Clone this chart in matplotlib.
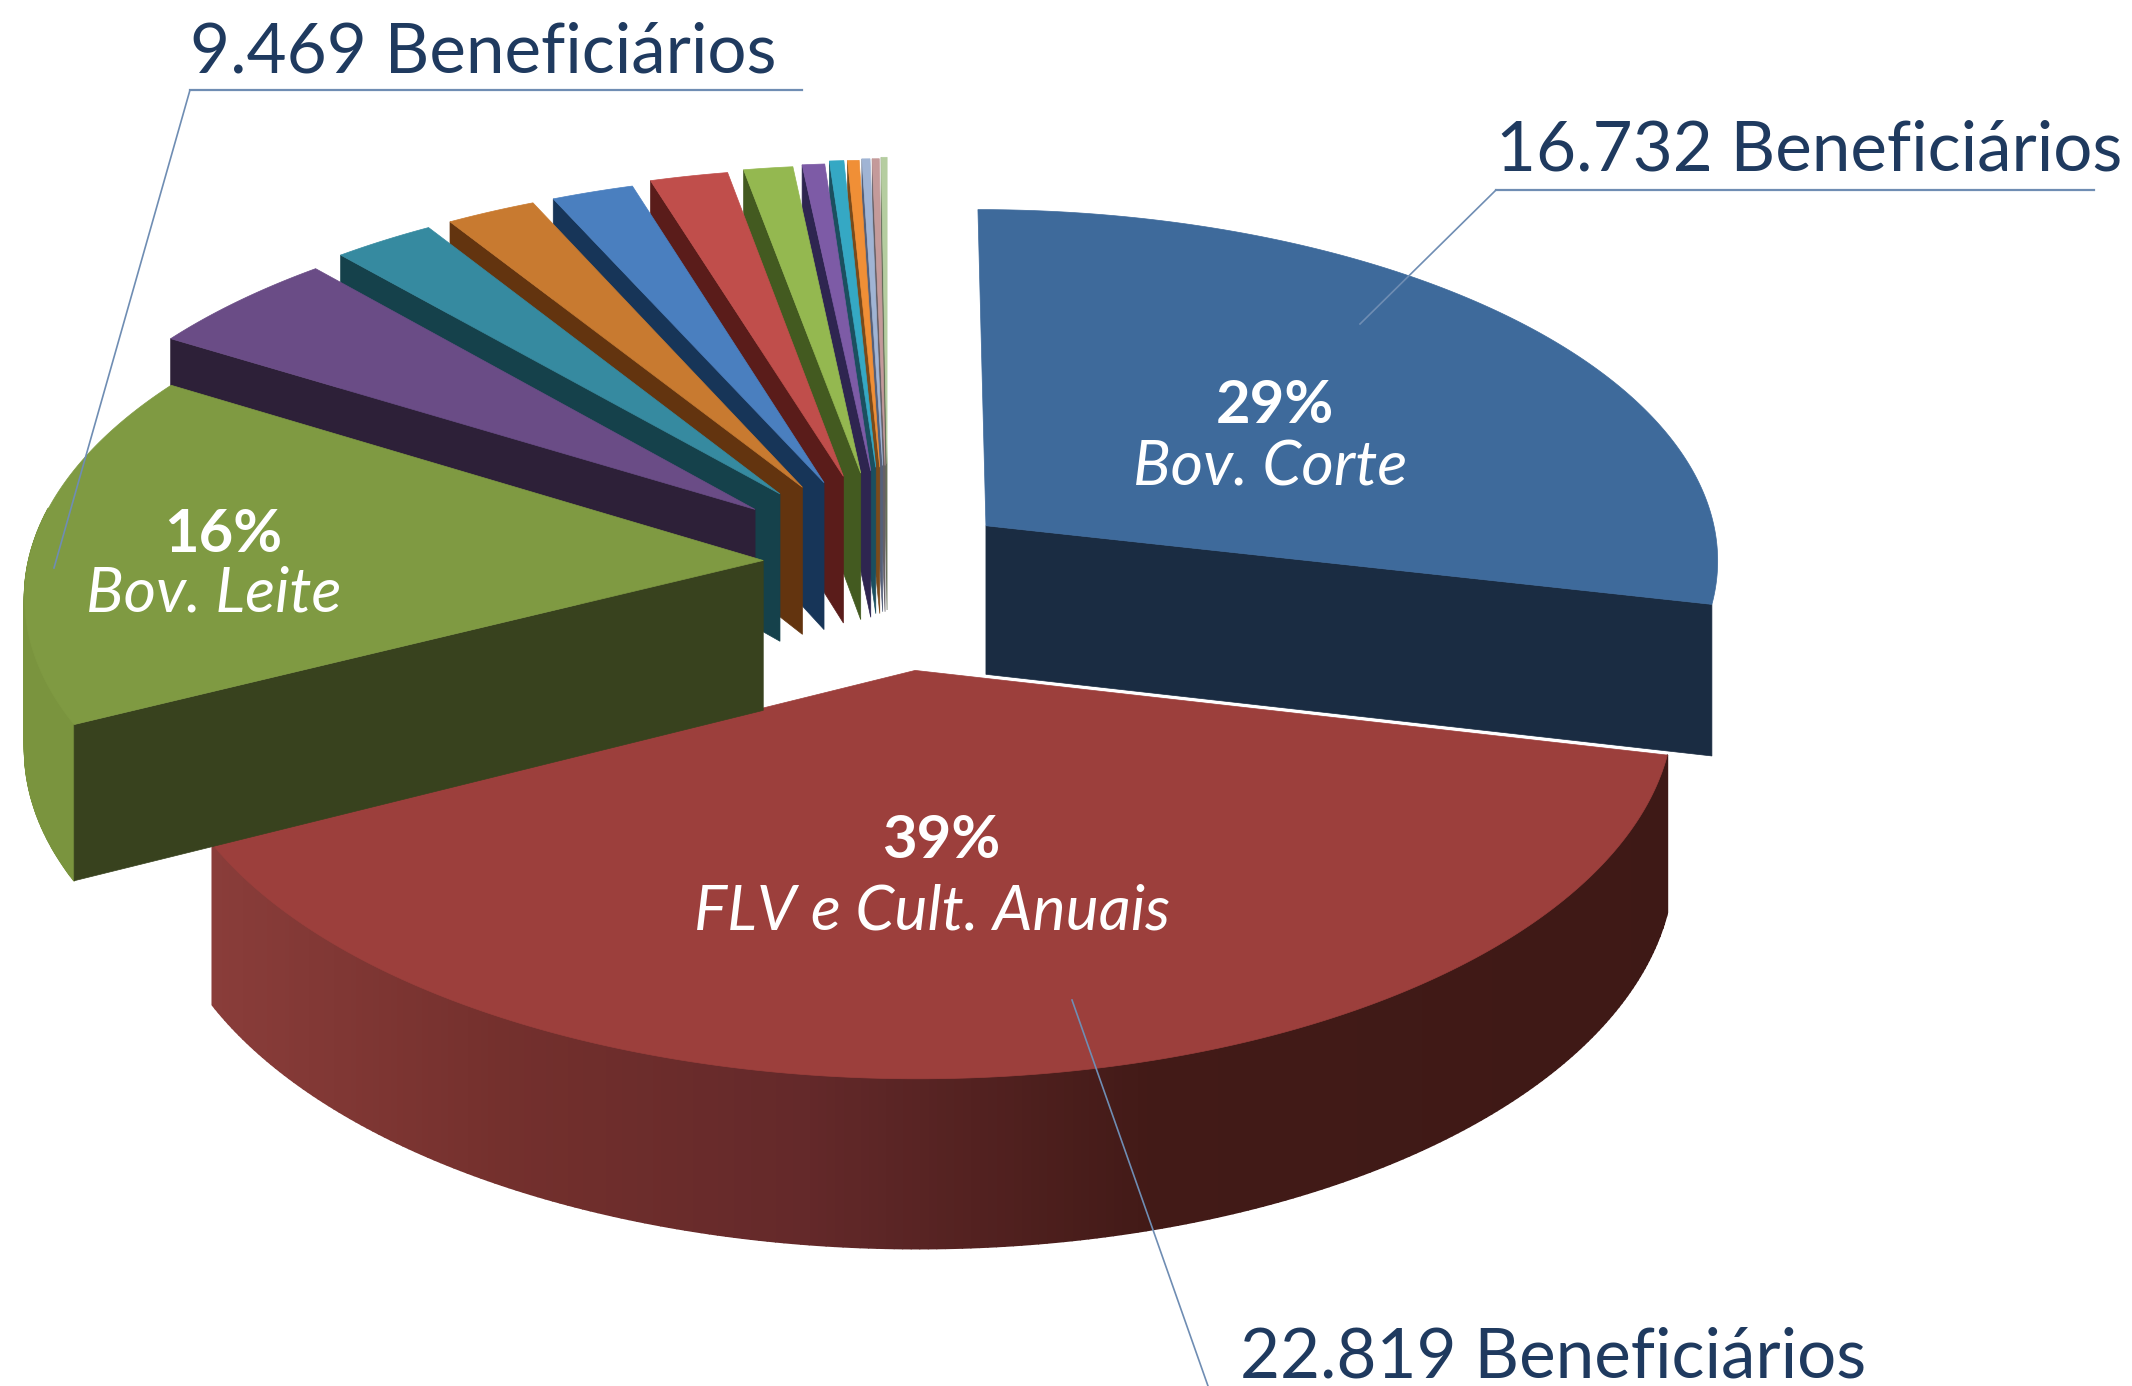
import numpy as np
import matplotlib
matplotlib.use("Agg")
import matplotlib.pyplot as plt
from matplotlib.collections import PolyCollection
from matplotlib.colors import to_rgb

# ---- data (beneficiaries per activity, clockwise from 12 o'clock) ----
names = ["Bov. Corte", "FLV e Cult. Anuais", "Bov. Leite", "Outra 1", "Outra 2", "Outra 3",
         "Outra 4", "Outra 5", "Outra 6", "Outra 7", "Outra 8", "Outra 9", "Outra 10", "Outra 11", "Outra 12"]
values = [16732, 22819, 9469, 2800, 1450, 1280, 1170, 1110, 700, 320, 205, 165, 115, 100, 85]
explode = [0.172, 0.30, 0.17, 0.24, 0.25, 0.25, 0.25, 0.26, 0.265, 0.27, 0.28, 0.28, 0.285, 0.285, 0.29]
top_colors = ["#3E6A9B", "#9C3F3C", "#7F9A42", "#6A4C86", "#368AA0", "#C87A30", "#4A7FBF", "#C04E4B",
              "#94B850", "#7D5BA6", "#35A8C4", "#F08F36", "#A0B4D4", "#C49A9A", "#B5CDA0"]
side_colors = ["#1A2C42", "#3E1916", "#38421E", "#2D2038", "#15414B", "#63340F", "#173558", "#5A1C1A",
               "#435A20", "#2E2550", "#1B4F5F", "#7A4A1A", "#54607A", "#666066", "#66705A"]
wall_colors = ["", None, "#7A943E"] + side_colors[3:]

callout_texts = ["16.732 Beneficiários", "22.819 Beneficiários", "9.469 Beneficiários"]
pct_labels = ["29%", "39%", "16%"]
cat_labels = ["Bov. Corte", "FLV e Cult. Anuais", "Bov. Leite"]

# ---- projection of the tilted disc ----
CX, CY, A, B, P, Q, DEPTH = 888.0, 563.0, 735.0, 351.0, 0.09, 0.09, 150.0

def project(X, Y, down=False):
    X, Y = np.asarray(X, float), np.asarray(Y, float)
    sx = CX + A * X / (1 + P * Y)
    sy = CY - B * Y / (1 + Q * Y)
    if down:
        sy = sy + DEPTH / (1 + P * Y)
    return sx, sy

def lerp_wall(x):
    stops_x = [210, 500, 800, 1150, 1700]
    stops_c = np.array([to_rgb(c) for c in ["#8A3D3A", "#74302D", "#64292A", "#421A17", "#3E1916"]])
    return [float(np.interp(x, stops_x, stops_c[:, i])) for i in range(3)]

fig = plt.figure(figsize=(21.32, 13.86), dpi=100)
ax = fig.add_axes([0, 0, 1, 1])
ax.set_xlim(0, 2132)
ax.set_ylim(1386, 0)
ax.axis("off")

vals = np.array(values, float)
edges = np.concatenate([[0], np.cumsum(vals) / vals.sum() * 2 * np.pi])

def draw_slice(i, z):
    a0, a1 = edges[i], edges[i + 1]
    mid = (a0 + a1) / 2
    ox, oy = explode[i] * np.sin(mid), explode[i] * np.cos(mid)
    th = np.linspace(a0, a1, 240)
    X, Y = ox + np.sin(th), oy + np.cos(th)
    tx, ty = project(X, Y)
    bx, by = project(X, Y, down=True)
    apx, apy = project(ox, oy)
    abx, aby = project(ox, oy, down=True)

    # outer wall: strips between rim and lower rim
    if wall_colors[i] != "":
        quads, cols = [], []
        for k in range(len(th) - 1):
            if np.cos(th[k]) >= 0.15:
                continue
            quads.append([(tx[k], ty[k]), (tx[k + 1], ty[k + 1]), (bx[k + 1], by[k + 1]), (bx[k], by[k])])
            if wall_colors[i] is None:
                cols.append(lerp_wall((tx[k] + tx[k + 1]) / 2))
            else:
                cols.append(to_rgb(wall_colors[i]))
        if quads:
            ax.add_collection(PolyCollection(quads, facecolors=cols, edgecolors=cols, linewidths=1.2, zorder=z))

    # cut faces: only those turned to the viewer
    for ang, rim, low in ((a0, 0, 0), (a1, -1, -1)):
        show = np.sin(ang) < 0 if ang == a0 else np.sin(ang) > 0
        if show:
            ax.fill([apx, tx[rim], bx[low], abx], [apy, ty[rim], by[low], aby],
                    facecolor=side_colors[i], edgecolor=side_colors[i], linewidth=0.5, zorder=z + 0.1)

    # top surface
    ax.fill(np.r_[apx, tx], np.r_[apy, ty], facecolor=top_colors[i], edgecolor=top_colors[i],
            linewidth=0.5, zorder=z + 0.2)

# painter's order: far small slices first, then the three big ones
order = list(range(len(values) - 1, 2, -1)) + [0, 1, 2]
for z, i in enumerate(order):
    draw_slice(i, 2 + z)

# ---- leader lines ----
LC = "#6F8DB3"
ax.plot([1496, 2094], [190, 190], color=LC, lw=1.6, zorder=40)
ax.plot([1496, 1360], [190, 324], color=LC, lw=1.2, zorder=40)
ax.plot([190, 802], [90, 90], color=LC, lw=1.6, zorder=40)
ax.plot([190, 54], [90, 568], color=LC, lw=1.2, zorder=40)
ax.plot([1208, 1072], [1386, 1000], color=LC, lw=1.2, zorder=40)

# ---- text ----
FONT = "Lato"
TC = "#1F3A5F"
for s, x, y in zip(callout_texts, [1496, 1240, 190], [151, 1358, 53]):
    ax.text(x, y, s, family=FONT, fontsize=49.8, color=TC, ha="left", va="center", zorder=50)

for p, c, (xp, yp), (xc, yc) in zip(pct_labels, cat_labels,
                                    [(1275, 406), (941, 841), (223, 535)],
                                    [(1270, 468), (932, 912), (214, 594)]):
    ax.text(xp, yp, p, family=FONT, fontsize=43, fontweight="bold", color="white", ha="center", va="center", zorder=50)
    ax.text(xc, yc, c, family=FONT, fontsize=45, fontstyle="italic", color="white", ha="center", va="center", zorder=50)

fig.savefig("out.png", dpi=100, facecolor="white")
